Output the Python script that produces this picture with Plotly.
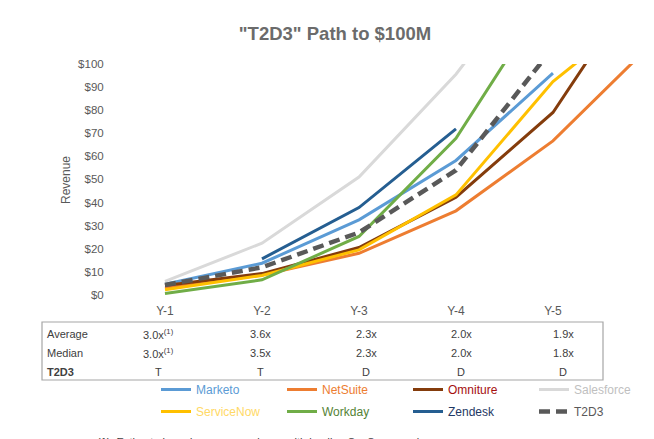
import plotly.graph_objects as go

# --- data ---
years = ["Y-1", "Y-2", "Y-3", "Y-4", "Y-5"]
steps = [0, 1, 2, 3, 4, 5]

marketo = [4.6, 13.7, 32.5, 58.2, 96.0]
netsuite = [2.9, 8.6, 18.0, 36.4, 66.7, 108]
omniture = [4.0, 9.2, 20.5, 42.3, 79.0, 142]
salesforce = [5.8, 22.4, 51.0, 95.6, 150]
servicenow = [2.2, 8.4, 19.5, 43.3, 92.4, 126]
workday = [0.6, 6.5, 25.3, 67.8, 133]
zendesk = [None, 15.6, 37.8, 71.9]
t2d3 = [4.3, 11.9, 27.0, 54.0, 107]

row_labels = ["Average", "Median", "<b>T2D3</b>"]
avg_mult = ["3.0x<sup>(1)</sup>", "3.6x", "2.3x", "2.0x", "1.9x"]
med_mult = ["3.0x<sup>(1)</sup>", "3.5x", "2.3x", "2.0x", "1.8x"]
t2d3_code = ["T", "T", "D", "D", "D"]

footnote = "(1)  Estimate based on our experience with leading SaaS companies"

# --- geometry (pixels) ---
W, H = 654, 439
L, R, T, B = 108, 0, 56, 151
PW, PH = W - L - R, H - T - B


def px(x):
    return (x - L) / PW


def py(y):
    return (H - B - y) / PH


GREY = "#595959"
TXT = "#404040"
FONT = "Liberation Sans, Arial, sans-serif"

# name, values, line colour, legend text colour, width, dash, legend row
series = [
    ("Marketo", marketo, "#5b9bd5", "#5b9bd5", 3, None, "legend"),
    ("NetSuite", netsuite, "#ed7d31", "#ed7d31", 3, None, "legend"),
    ("Omniture", omniture, "#843c0c", "#a50f0f", 3, None, "legend"),
    ("Salesforce", salesforce, "#d9d9d9", "#bfbfbf", 3, None, "legend"),
    ("ServiceNow", servicenow, "#ffc000", "#ffd966", 3, None, "legend2"),
    ("Workday", workday, "#70ad47", "#548235", 3, None, "legend2"),
    ("Zendesk", zendesk, "#255e91", "#1f3864", 3, None, "legend2"),
    ("T2D3", t2d3, "#595959", "#595959", 4.5, "11px,6px", "legend2"),
]

fig = go.Figure()
for name, vals, col, tcol, w, dash, leg in series:
    fig.add_trace(go.Scatter(
        x=steps[:len(vals)], y=vals, mode="lines",
        name=f'<span style="color:{tcol}">{name}</span>',
        line=dict(color=col, width=w, dash=dash),
        connectgaps=False, legend=leg,
    ))

# --- table under the chart ---
col_x = [150, 252, 358, 453, 555]
row_y = [326, 345, 364]
ann = []
for y, lab in zip(row_y, row_labels):
    ann.append(dict(x=px(37), y=py(y), text=lab, xanchor="left", yanchor="middle"))
for vals, y in zip([avg_mult, med_mult, t2d3_code], row_y):
    for x, v in zip(col_x, vals):
        ann.append(dict(x=px(x), y=py(y), text=v, xanchor="center", yanchor="middle"))
ann.append(dict(x=px(87), y=py(434), text=footnote, xanchor="left", yanchor="middle"))
for a in ann:
    a.update(xref="paper", yref="paper", showarrow=False,
             font=dict(family=FONT, size=11, color=TXT))

fig.add_shape(type="rect", xref="paper", yref="paper",
              x0=px(34), x1=px(595), y0=py(314), y1=py(372),
              line=dict(color="#a6a6a6", width=1.2))

leg_style = dict(orientation="h", xanchor="left", yanchor="top",
                 entrywidth=81, entrywidthmode="pixels",
                 font=dict(family=FONT, size=12), bgcolor="rgba(0,0,0,0)")

fig.update_layout(
    width=W, height=H,
    margin=dict(l=L, r=R, t=T, b=B),
    paper_bgcolor="white", plot_bgcolor="white",
    font=dict(family=FONT, color=GREY, size=11),
    title=dict(text='<b>"T2D3" Path to $100M</b>', x=0.5, xref="container",
               y=1 - 25.7 / H, yanchor="middle",
               font=dict(family=FONT, size=18.5, color="#6b6b6b")),
    annotations=ann,
    showlegend=True,
    legend=dict(x=px(148), y=py(367), **leg_style),
    legend2=dict(x=px(148), y=py(389), **leg_style),
)
fig.update_xaxes(range=[-0.505, 5.124], tickvals=steps[:5], ticktext=years,
                 showgrid=False, zeroline=False, showline=False,
                 ticks="outside", ticklen=4, tickcolor="rgba(0,0,0,0)",
                 tickfont=dict(size=12, color=GREY))
fig.update_yaxes(range=[-0.5, 100], dtick=10, tickprefix="$",
                 showgrid=False, zeroline=False, showline=False,
                 ticks="outside", ticklen=9, tickcolor="rgba(0,0,0,0)",
                 tickfont=dict(size=11.5, color=GREY),
                 title=dict(text="Revenue", standoff=4, font=dict(size=12, color=GREY)))

fig.write_html("out.html")
